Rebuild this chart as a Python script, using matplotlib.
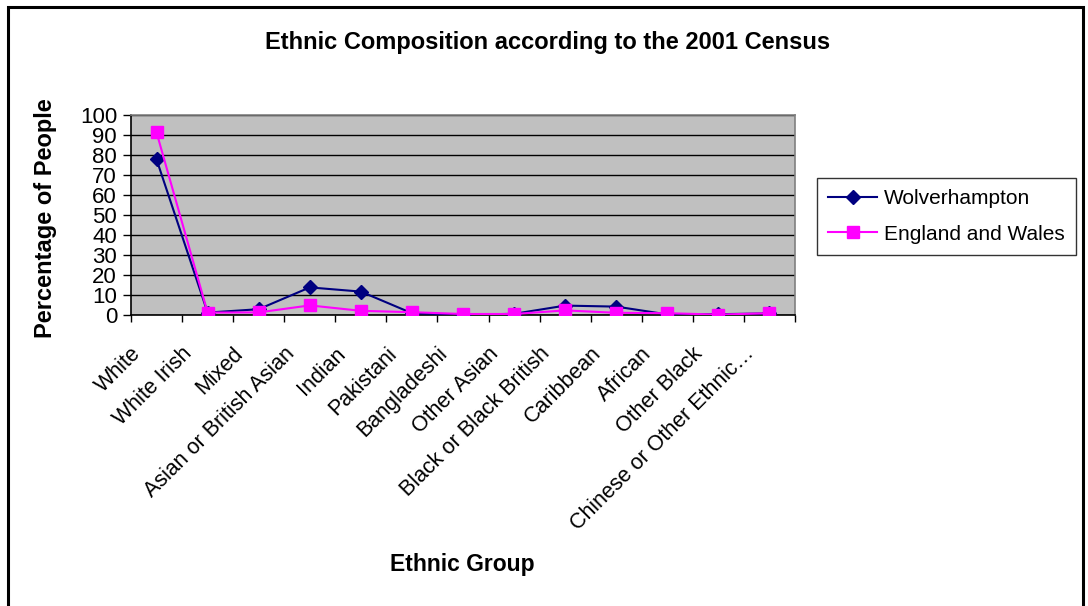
import matplotlib.pyplot as plt
from matplotlib.patches import Rectangle
from matplotlib.transforms import ScaledTranslation

plt.rcParams['font.family'] = ['Liberation Sans', 'DejaVu Sans']

groups = ['White', 'White Irish', 'Mixed', 'Asian or British Asian', 'Indian',
          'Pakistani', 'Bangladeshi', 'Other Asian', 'Black or Black British',
          'Caribbean', 'African', 'Other Black', 'Chinese or Other Ethnic…']
wolverhampton = [77.8, 1.2, 2.9, 13.8, 11.7, 0.9, 0.1, 0.6, 4.7, 4.2, 0.3, 0.4, 0.8]
england_wales = [91.3, 1.2, 1.3, 4.8, 2.1, 1.4, 0.5, 0.5, 2.3, 1.1, 0.9, 0.2, 0.9]
yticks = list(range(0, 101, 10))

fig = plt.figure(figsize=(10.88, 6.06), dpi=100)
# outer chart frame
fig.patches.append(Rectangle((8 / 1088, -0.05), 1075 / 1088, 1 - 7 / 606 + 0.05,
                             transform=fig.transFigure, fill=False,
                             edgecolor='black', lw=2.2))

ax = fig.add_axes([131 / 1088, 1 - 315 / 606, 664 / 1088, 200 / 606])
ax.set_facecolor('#C0C0C0')

x = list(range(len(groups)))
ax.plot(x, wolverhampton, color='#000080', lw=1.5, marker='D', ms=7,
        label='Wolverhampton', zorder=3)
ax.plot(x, england_wales, color='#FF00FF', lw=1.5, marker='s', ms=8,
        label='England and Wales', zorder=4)

ax.set_xlim(-0.5, len(groups) - 0.5)
ax.set_ylim(0, 100)
ax.set_yticks(yticks)
ax.set_yticklabels([str(v) for v in yticks], fontsize=16)
ax.yaxis.grid(True, color='black', lw=1)
ax.set_axisbelow(True)

# ticks at the category boundaries; names are placed by hand below
ax.set_xticks([i - 0.5 for i in range(len(groups) + 1)])
ax.set_xticklabels([])
ax.tick_params(axis='x', length=5, width=1, color='black')
ax.tick_params(axis='y', length=6, width=1, color='black', pad=4)

label_offset = ScaledTranslation(-26 / 100, -28 / 100, fig.dpi_scale_trans)
for i, name in zip(x, groups):
    ax.text(i, 0, name, transform=ax.get_xaxis_transform() + label_offset,
            rotation=45, ha='right', va='top', rotation_mode='anchor',
            fontsize=15.5, clip_on=False)

for side in ['top', 'right']:
    ax.spines[side].set_color('#808080')
    ax.spines[side].set_linewidth(1.2)
for side in ['left', 'bottom']:
    ax.spines[side].set_color('black')
    ax.spines[side].set_linewidth(1.2)

fig.text(548 / 1088, 1 - 42 / 606, 'Ethnic Composition according to the 2001 Census',
         ha='center', va='center', fontsize=17, fontweight='bold')
fig.text(462 / 1088, 1 - 565 / 606, 'Ethnic Group', ha='center', va='center',
         fontsize=16.5, fontweight='bold')
fig.text(46 / 1088, 1 - 218 / 606, 'Percentage of People', ha='center', va='center',
         rotation=90, fontsize=17, fontweight='bold')

leg = ax.legend(loc='upper left', bbox_to_anchor=(817 / 1088, 1 - 178 / 606),
                bbox_transform=fig.transFigure, fontsize=15, frameon=True,
                fancybox=False, edgecolor='black', borderaxespad=0,
                handlelength=2.35, handletextpad=0.3, labelspacing=0.78,
                borderpad=0.55)
leg.get_frame().set_linewidth(1)

fig.savefig('out.png', dpi=100)
